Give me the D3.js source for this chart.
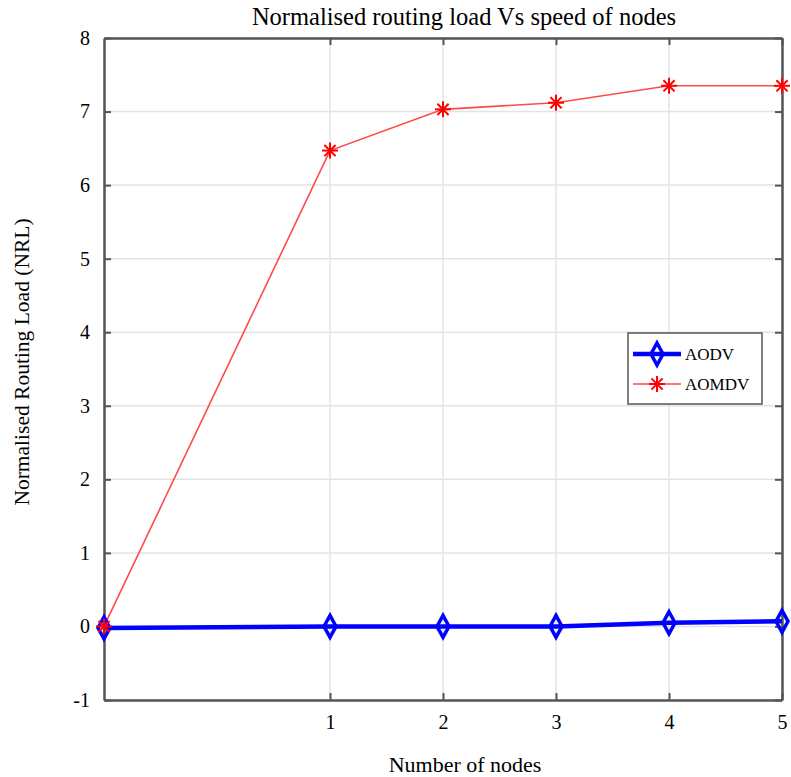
<!DOCTYPE html>
<html>
<head>
<meta charset="utf-8">
<script src="https://cdn.jsdelivr.net/npm/d3@7"></script>
<style>
  body { margin: 0; background: #fff; }
  text { font-family: "Liberation Serif", "Times New Roman", serif; fill: #000; }
</style>
</head>
<body>
<svg id="chart"></svg>
<script>
const width = 791;
const height = 777;

// data
const xValues = [-1, 1, 2, 3, 4, 5];
const aodv = [-0.02, 0, 0, 0, 0.05, 0.07];
const aomdv = [0, 6.47, 7.03, 7.12, 7.35, 7.35];
const xTicks = [1, 2, 3, 4, 5];
const yTicks = [-1, 0, 1, 2, 3, 4, 5, 6, 7, 8];
const seriesNames = ["AODV", "AOMDV"];

const margin = {top: 38, right: 8, bottom: 77, left: 104};

let svg = d3.select("#chart")
  .attr("width", width)
  .attr("height", height);

const x = d3.scaleLinear().domain([-1, 5]).range([margin.left, width - margin.right - 1]);
const y = d3.scaleLinear().domain([-1, 8]).range([height - margin.bottom, margin.top]);

// grid
svg.append("g")
  .selectAll("line")
  .data(xTicks)
  .join("line")
  .attr("x1", d => x(d)).attr("x2", d => x(d))
  .attr("y1", y(8)).attr("y2", y(-1))
  .style("stroke", "#e3e3e3")
  .style("stroke-width", 1.5);
svg.append("g")
  .selectAll("line")
  .data(yTicks)
  .join("line")
  .attr("x1", x(-1)).attr("x2", x(5))
  .attr("y1", d => y(d)).attr("y2", d => y(d))
  .style("stroke", "#e3e3e3")
  .style("stroke-width", 1.5);

// axes
const axisColor = "#555";
const fmt = d => String(d);
const bottomAxis = svg.append("g")
  .attr("transform", `translate(0,${y(-1)})`)
  .call(d3.axisBottom(x).tickValues(xTicks).tickFormat(fmt).tickSizeInner(-7).tickSizeOuter(0).tickPadding(15));
const topAxis = svg.append("g")
  .attr("transform", `translate(0,${y(8)})`)
  .call(d3.axisTop(x).tickValues(xTicks).tickSizeInner(-7).tickSizeOuter(0).tickFormat(""));
const leftAxis = svg.append("g")
  .attr("transform", `translate(${x(-1)},0)`)
  .call(d3.axisLeft(y).tickValues(yTicks).tickFormat(fmt).tickSizeInner(-7).tickSizeOuter(0).tickPadding(14));
const rightAxis = svg.append("g")
  .attr("transform", `translate(${x(5)},0)`)
  .call(d3.axisRight(y).tickValues(yTicks).tickSizeInner(-7).tickSizeOuter(0).tickFormat(""));

[bottomAxis, topAxis, leftAxis, rightAxis].forEach(a => {
  a.select(".domain").style("stroke", axisColor).style("stroke-width", 2.5);
  a.selectAll(".tick line").style("stroke", axisColor).style("stroke-width", 2);
  a.selectAll(".tick text")
    .style("font-family", "Liberation Serif, serif")
    .style("font-size", "20px")
    .style("fill", "#000");
});

// lines
const line = d3.line()
  .x((d, i) => x(xValues[i]))
  .y(d => y(d));

svg.append("path")
  .attr("d", line(aomdv))
  .attr("fill", "none")
  .attr("stroke", "#ff4a4a")
  .attr("stroke-width", 1.6);

svg.append("path")
  .attr("d", line(aodv))
  .attr("fill", "none")
  .attr("stroke", "#0000ff")
  .attr("stroke-width", 4.5);

function diamond(g, cx, cy) {
  g.append("path")
    .attr("d", `M${cx},${cy - 11} L${cx + 6},${cy} L${cx},${cy + 11} L${cx - 6},${cy} Z`)
    .attr("fill", "none")
    .attr("stroke", "#0000ff")
    .attr("stroke-width", 3.5);
}

function star(g, cx, cy) {
  const r = 8;
  const s = g.append("g").attr("transform", `translate(${cx},${cy})`)
    .style("stroke", "#ff0000").style("stroke-width", 2);
  s.append("line").attr("x1", 0).attr("y1", -r).attr("x2", 0).attr("y2", r);
  s.append("line").attr("x1", -r).attr("y1", 0).attr("x2", r).attr("y2", 0);
  s.append("line").attr("x1", -r * 0.7).attr("y1", -r * 0.7).attr("x2", r * 0.7).attr("y2", r * 0.7);
  s.append("line").attr("x1", -r * 0.7).attr("y1", r * 0.7).attr("x2", r * 0.7).attr("y2", -r * 0.7);
}

const markers = svg.append("g");
aodv.forEach((v, i) => diamond(markers, x(xValues[i]), y(v)));
aomdv.forEach((v, i) => star(markers, x(xValues[i]), y(v)));

// title and labels
svg.append("text")
  .attr("x", 464)
  .attr("y", 25)
  .attr("text-anchor", "middle")
  .style("font-size", "24.5px")
  .text("Normalised routing load Vs speed of nodes");

svg.append("text")
  .attr("x", 465)
  .attr("y", 772)
  .attr("text-anchor", "middle")
  .style("font-size", "22px")
  .text("Number of nodes");

svg.append("text")
  .attr("transform", `translate(29,${(y(-1) + y(8)) / 2 - 7}) rotate(-90)`)
  .attr("text-anchor", "middle")
  .style("font-size", "21.5px")
  .text("Normalised Routing Load (NRL)");

// legend
const legend = svg.append("g").attr("transform", "translate(628,333)");
legend.append("rect")
  .attr("width", 134).attr("height", 71)
  .attr("fill", "#fff")
  .attr("stroke", "#555")
  .attr("stroke-width", 1.5);

seriesNames.forEach((name, i) => {
  const ly = 21 + i * 30;
  if (i === 0) {
    legend.append("line").attr("x1", 5).attr("x2", 53).attr("y1", ly).attr("y2", ly)
      .attr("stroke", "#0000ff").attr("stroke-width", 4.5);
    diamond(legend, 29, ly);
  } else {
    legend.append("line").attr("x1", 5).attr("x2", 53).attr("y1", ly).attr("y2", ly)
      .attr("stroke", "#ff4a4a").attr("stroke-width", 1.6);
    star(legend, 29, ly);
  }
  legend.append("text")
    .attr("x", 57).attr("y", ly + 6)
    .style("font-size", "17px")
    .text(name);
});
</script>
</body>
</html>
